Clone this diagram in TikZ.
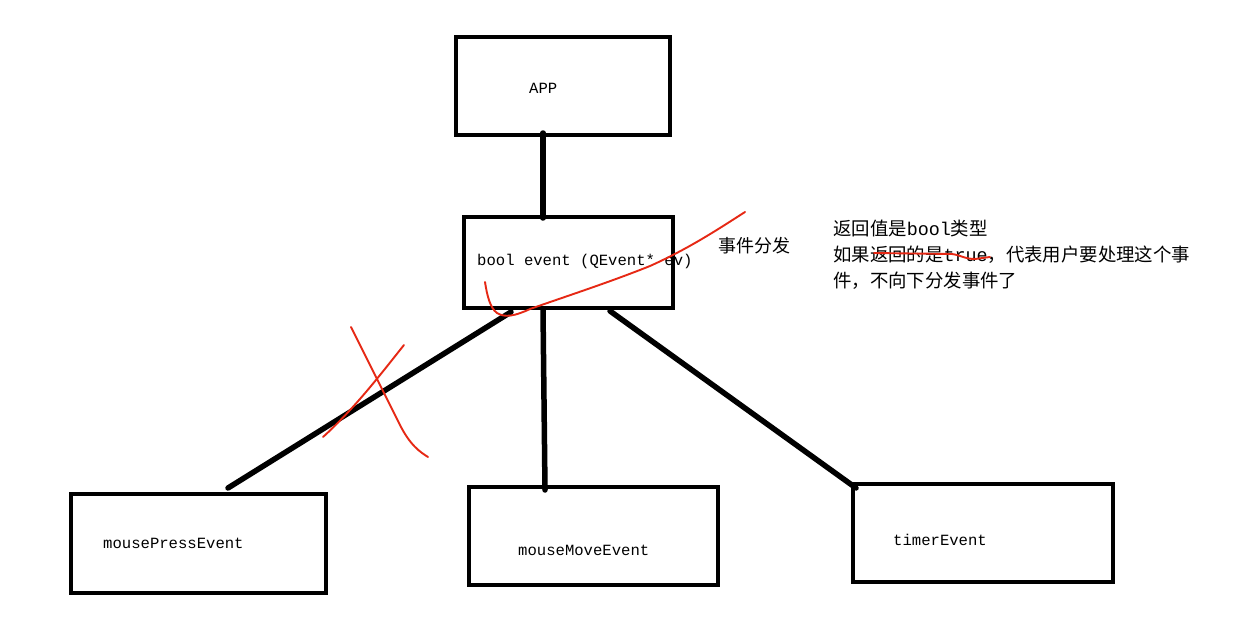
\documentclass[tikz,border=0pt]{standalone}
\usepackage{fontspec}
\newfontfamily\cjk{Noto Sans CJK SC}
\newfontfamily\mono{Liberation Mono}
\begin{document}
\begin{tikzpicture}[x=1pt,y=-1pt,
  box/.style={draw=black,line width=4pt,fill=none},
  lbl/.style={font=\mono\fontsize{15.6}{18}\selectfont,anchor=west,inner sep=0},
  conn/.style={line width=5.5pt,line cap=round},
  red/.style={draw={rgb,255:red,230;green,40;blue,20},line width=1.9pt,line cap=round,line join=round},
  note/.style={font=\cjk\fontsize{18.4}{26}\selectfont,anchor=north west,inner sep=0,align=left}]
\useasboundingbox[fill=white] (0,0) rectangle (1256,626);
% boxes
\draw[box] (456,37) rectangle (670,135);
\node[lbl] (app) at (529,88) {APP};
\draw[box] (464,217) rectangle (673,308);
\node[lbl] (ev) at (477,261) {bool event (QEvent* ev)};
\draw[box] (71,494) rectangle (326,593);
\node[lbl] (mp) at (103,543) {mousePressEvent};
\draw[box] (469,487) rectangle (718,585);
\node[lbl] (mm) at (518,550) {mouseMoveEvent};
\draw[box] (853,484) rectangle (1113,582);
\node[lbl] (tm) at (893,540) {timerEvent};
% anchor coordinates
\coordinate (appB) at (543,133);
\coordinate (evT) at (543,218);
\coordinate (evB1) at (511,312);
\coordinate (evB2) at (543,310);
\coordinate (evB3) at (610,311);
\coordinate (mpT) at (228,488);
\coordinate (mmT) at (545,490);
\coordinate (tmT) at (856,488);
\draw[conn] (appB) -- (evT);
\draw[conn] (evB1) -- (mpT);
\draw[conn] (evB2) -- (mmT);
\draw[conn] (evB3) -- (tmT);
% texts
\node[font=\cjk\fontsize{18}{20}\selectfont,anchor=west,inner sep=0] (fx) at (718,246) {事件分发};
\node[note] (nt) at (833,220) {返回值是{\mono bool}类型\\如果返回的是{\mono true}，代表用户要处理这个事\\件，不向下分发事件了};
% red strokes
\draw[red] (485,282) .. controls (487,295) and (490,308) .. (497,313)
  .. controls (505,318) and (515,316) .. (530,309)
  .. controls (570,295) and (610,282) .. (650,266)
  .. controls (690,248) and (720,228) .. (745,212);
\draw[red] (351,327) .. controls (365,355) and (385,395) .. (400,425)
  .. controls (410,445) and (420,452) .. (428,457);
\draw[red] (404,345) .. controls (380,375) and (355,408) .. (323,437);
\draw[red] (874,253) -- (952,254) .. controls (960,255) and (965,259) .. (975,259) -- (990,257);
\end{tikzpicture}
\end{document}
